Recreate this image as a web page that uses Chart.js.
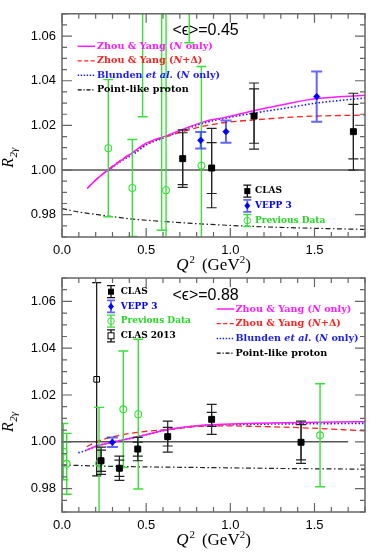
<!DOCTYPE html>
<html><head><meta charset="utf-8">
<script src="https://cdn.jsdelivr.net/npm/chart.js@4.4.0/dist/chart.umd.min.js"></script>
<style>
html,body{margin:0;padding:0;background:#fff;}
#wrap{position:relative;width:374px;height:554px;overflow:hidden;background:#fff;}
canvas{position:absolute;left:0;top:0;}
</style></head><body>
<div id="wrap"><canvas id="c1" width="374" height="554"></canvas><canvas id="c2" width="374" height="554"></canvas></div>
<script>
// ================= DATA =================
const xTickVals = [0.0, 0.5, 1.0, 1.5];
const yTickVals = [0.98, 1.00, 1.02, 1.04, 1.06];

// ---- panel 1 : <eps> = 0.45 ----
const clasQ2_45   = [0.717, 0.889, 1.141, 1.731];
const clasR_45    = [1.0051, 1.0009, 1.0242, 1.0172];
const clasStat_45 = [0.0116, 0.0114, 0.0122, 0.0122];
const clasTot_45  = [0.0129, 0.0178, 0.0148, 0.0172];

const veppQ2_45  = [0.824, 0.974, 1.513];
const veppR_45   = [1.0133, 1.0172, 1.0329];
const veppErr_45 = [0.0037, 0.0050, 0.0113];

const prevQ2_45  = [0.275, 0.418, 0.479, 0.592, 0.618, 0.618, 0.756, 0.828];
const prevR_45   = [1.0098, 0.9920, 1.0850, 1.1000, 0.9910, 1.0880, 1.0900, 1.0020];
const prevErr_45 = [0.0307, 0.0217, 0.0611, 0.1270, 0.0456, 0.0514, 0.0330, 0.0444];

const curveQ2_45 = [0.15, 0.20, 0.275, 0.35, 0.418, 0.50, 0.618, 0.717, 0.85, 0.968, 1.147, 1.325, 1.513, 1.80];
const zyN_45     = [0.9918, 0.9955, 1.0000, 1.0042, 1.0077, 1.0120, 1.0153, 1.0182, 1.0218, 1.0236, 1.0267, 1.0295, 1.0320, 1.0335];
const zyND_45    = [0.9918, 0.9956, 1.0003, 1.0045, 1.0078, 1.0117, 1.0150, 1.0172, 1.0198, 1.0213, 1.0225, 1.0235, 1.0242, 1.0246];
const blN_45     = [null, null, 0.9998, 1.0040, 1.0068, 1.0112, 1.0148, 1.0178, 1.0212, 1.0232, 1.0256, 1.0277, 1.0300, 1.0323];
const pointQ2_45 = [0.0, 0.1, 0.275, 0.424, 0.618, 0.82, 1.0, 1.216, 1.5, 1.8];
const pointR_45  = [0.9827, 0.9812, 0.9794, 0.9780, 0.9769, 0.9759, 0.9752, 0.9745, 0.9739, 0.9734];
const unityQ2_45 = [0.0, 1.8];

// ---- panel 2 : <eps> = 0.88 ----
const clasQ2_88   = [0.232, 0.341, 0.450, 0.628, 0.889, 1.420];
const clasR_88    = [0.9919, 0.9887, 0.9969, 1.0022, 1.0096, 0.9998];
const clasStat_88 = [0.0045, 0.0035, 0.0030, 0.0040, 0.0030, 0.0075];
const clasTot_88  = [0.0058, 0.0052, 0.0050, 0.0066, 0.0064, 0.0090];

const veppQ2_88  = [0.299];
const veppR_88   = [0.9998];
const veppErr_88 = [0.0020];

const prevQ2_88  = [0.008, 0.028, 0.220, 0.364, 0.453, 1.533];
const prevR_88   = [0.9958, 0.9906, 0.9908, 1.0139, 1.0118, 1.0028];
const prevErr_88 = [0.0120, 0.0130, 0.0239, 0.0249, 0.0320, 0.0220];

const clas13Q2_88  = [0.206];
const clas13R_88   = [1.0267];
const clas13Err_88 = [0.0413];

const curveQ2_88 = [0.097, 0.147, 0.206, 0.299, 0.434, 0.632, 0.85, 1.0, 1.147, 1.424, 1.642, 1.80];
const zyN_88     = [null, 0.9965, 0.9982, 0.9998, 1.0019, 1.0053, 1.0072, 1.0076, 1.0079, 1.0083, 1.0085, 1.0086];
const zyND_88    = [null, 0.9979, 1.0000, 1.0021, 1.0039, 1.0053, 1.0067, 1.0068, 1.0066, 1.0060, 1.0053, 1.0047];
const blN_88     = [0.9953, 0.9964, 0.9982, 0.9998, 1.0019, 1.0052, 1.0070, 1.0073, 1.0075, 1.0077, 1.0078, 1.0079];
const pointQ2_88 = [0.0, 0.3, 0.85, 1.3, 1.8];
const pointR_88  = [0.9901, 0.9895, 0.9890, 0.9886, 0.9883];
const unityQ2_88 = [0.0, 1.7];

// ================= STYLE =================
const C_MAG = '#ff1aff', C_RED = '#ff2020', C_BLUE = '#1a1aff', C_GREEN = '#38e038';
const C_VEPPERR = 'rgba(40,40,255,0.72)', C_FRAME = '#666';
const SERIF = '"DejaVu Serif", serif';
const TSERIF = '"Liberation Serif", "Times New Roman", serif';

function pts(xs, ys) {
  const out = [];
  xs.forEach((x, i) => { if (ys[i] !== null && ys[i] !== undefined) out.push({x: x, y: ys[i]}); });
  return out;
}

function drawSegs(ctx, segs, x, y, size, color) {
  ctx.fillStyle = color; ctx.textBaseline = 'middle'; ctx.textAlign = 'left';
  segs.forEach(s => {
    ctx.font = (s.i ? 'italic ' : '') + 'bold ' + size + 'px ' + SERIF;
    ctx.fillText(s.t, x, y);
    x += ctx.measureText(s.t).width;
  });
}

const lineLegendItems = [
  {color: C_MAG, dash: [], w: 1.5, segs: [{t: 'Zhou & Yang ('}, {t: 'N', i: 1}, {t: ' only)'}]},
  {color: C_RED, dash: [4, 2.5], w: 1.3, segs: [{t: 'Zhou & Yang ('}, {t: 'N', i: 1}, {t: '+Δ)'}]},
  {color: C_BLUE, dash: [1.4, 1.6], w: 1.5, segs: [{t: 'Blunden '}, {t: 'et al.', i: 1}, {t: ' ('}, {t: 'N', i: 1}, {t: ' only)'}]},
  {color: '#000', dash: [4, 1.8, 1.2, 1.8], w: 1.2, segs: [{t: 'Point-like proton'}]}
];

function glyph(ctx, kind, x, y) {
  const col = {clas: '#111', vepp: C_VEPPERR, prev: C_GREEN, clas13: '#111'}[kind];
  ctx.save();
  ctx.strokeStyle = col; ctx.lineWidth = kind === 'vepp' ? 1.8 : 1.3; ctx.setLineDash([]);
  ctx.beginPath();
  ctx.moveTo(x, y - 6); ctx.lineTo(x, y + 6);
  ctx.moveTo(x - 4, y - 6); ctx.lineTo(x + 4, y - 6);
  ctx.moveTo(x - 4, y + 6); ctx.lineTo(x + 4, y + 6);
  ctx.stroke();
  ctx.lineWidth = 1;
  if (kind === 'clas') { ctx.fillStyle = '#000'; ctx.fillRect(x - 3, y - 3, 6, 6); }
  if (kind === 'clas13') { ctx.fillStyle = '#fff'; ctx.fillRect(x - 3, y - 3, 6, 6); ctx.strokeStyle = '#000'; ctx.strokeRect(x - 3, y - 3, 6, 6); }
  if (kind === 'vepp') { ctx.fillStyle = '#0000ff'; ctx.beginPath(); ctx.moveTo(x, y - 3.5); ctx.lineTo(x + 3, y); ctx.lineTo(x, y + 3.5); ctx.lineTo(x - 3, y); ctx.closePath(); ctx.fill(); }
  if (kind === 'prev') { ctx.strokeStyle = C_GREEN; ctx.beginPath(); ctx.arc(x, y, 3.3, 0, Math.PI * 2); ctx.stroke(); }
  ctx.restore();
}

const decoPlugin = {
  id: 'deco',
  beforeDatasetDraw(chart, args) {
    const ds = chart.data.datasets[args.index];
    if (!ds.errs) return;
    const ctx = chart.ctx, a = chart.chartArea, xs = chart.scales.x, ys = chart.scales.y;
    ctx.save();
    ctx.beginPath(); ctx.rect(a.left, a.top, a.right - a.left, a.bottom - a.top); ctx.clip();
    ctx.strokeStyle = ds.errColor; ctx.lineWidth = ds.errWidth; ctx.setLineDash([]);
    ds.data.forEach((p, i) => {
      const px = xs.getPixelForValue(p.x);
      ds.errs.forEach(e => {
        const y1 = ys.getPixelForValue(p.y + e[i]), y2 = ys.getPixelForValue(p.y - e[i]);
        ctx.beginPath();
        ctx.moveTo(px, y1); ctx.lineTo(px, y2);
        ctx.moveTo(px - ds.capHalf, y1); ctx.lineTo(px + ds.capHalf, y1);
        ctx.moveTo(px - ds.capHalf, y2); ctx.lineTo(px + ds.capHalf, y2);
        ctx.stroke();
      });
    });
    ctx.restore();
  },
  afterDraw(chart, args, o) {
    const ctx = chart.ctx, a = chart.chartArea, xs = chart.scales.x, ys = chart.scales.y;
    ctx.save();
    // frame
    ctx.strokeStyle = C_FRAME; ctx.lineWidth = 1.5; ctx.setLineDash([]);
    ctx.strokeRect(a.left, a.top, a.right - a.left, a.bottom - a.top);
    // inward ticks
    ctx.lineWidth = 1.2;
    ctx.beginPath();
    for (let k = 0; k <= 18; k++) {
      const v = k / 10, px = xs.getPixelForValue(v);
      const L = (k % 5 === 0) ? 9 : 5;
      ctx.moveTo(px, a.bottom); ctx.lineTo(px, a.bottom - L);
      ctx.moveTo(px, a.top); ctx.lineTo(px, a.top + L);
    }
    for (let k = 0; k <= 20; k++) {
      const v = 0.97 + k * 0.005, py = ys.getPixelForValue(v);
      const L = ((k - 2) % 4 === 0) ? 10 : 5;
      ctx.moveTo(a.left, py); ctx.lineTo(a.left + L, py);
      ctx.moveTo(a.right, py); ctx.lineTo(a.right - L, py);
    }
    ctx.stroke();

    // epsilon label
    ctx.fillStyle = '#000'; ctx.textBaseline = 'alphabetic'; ctx.textAlign = 'left';
    ctx.font = '16px "Liberation Sans", "DejaVu Sans", sans-serif';
    ctx.fillText('<ϵ>=' + o.eps, a.left + 110.5, a.top + 21.5);

    // x title
    const cx = (a.left + a.right) / 2, by = a.bottom + 33;
    const big = '17px ' + TSERIF, sml = '11px ' + TSERIF;
    ctx.font = 'italic ' + big; const wQ = ctx.measureText('Q').width;
    ctx.font = sml; const w2 = ctx.measureText('2').width;
    ctx.font = big; const wG = ctx.measureText('(GeV').width, wP = ctx.measureText(')').width;
    const gap = 7;
    const total = wQ + w2 + 1 + gap + wG + w2 + wP;
    let tx = cx - total / 2;
    ctx.font = 'italic ' + big; ctx.fillText('Q', tx, by); tx += wQ + 1;
    ctx.font = sml; ctx.fillText('2', tx, by - 7); tx += w2 + gap;
    ctx.font = big; ctx.fillText('(GeV', tx, by); tx += wG;
    ctx.font = sml; ctx.fillText('2', tx, by - 7); tx += w2;
    ctx.font = big; ctx.fillText(')', tx, by);

    // y title (rotated)
    ctx.save();
    ctx.translate(13, a.top + 154);
    ctx.rotate(-Math.PI / 2);
    ctx.font = 'italic 16px ' + TSERIF; ctx.fillText('R', 0, 0);
    const wR = ctx.measureText('R').width;
    ctx.font = 'italic 11px ' + TSERIF; ctx.fillText('2γ', wR + 0.5, 3.5);
    ctx.restore();

    // line legend
    const L1 = o.lineLegend;
    lineLegendItems.forEach((it, i) => {
      const y = a.top + L1.y0 + i * L1.dy;
      ctx.strokeStyle = it.color; ctx.lineWidth = it.w; ctx.setLineDash(it.dash);
      ctx.beginPath(); ctx.moveTo(a.left + L1.x0, y); ctx.lineTo(a.left + L1.x1, y); ctx.stroke();
      ctx.setLineDash([]);
      drawSegs(ctx, it.segs, a.left + L1.tx, y, 9.6, it.color);
    });

    // marker legend
    const M = o.markerLegend;
    M.items.forEach((it, i) => {
      const y = a.top + M.y0 + i * M.dy;
      glyph(ctx, it.kind, a.left + M.mx, y);
      drawSegs(ctx, [{t: it.label}], a.left + M.tx, y, 9, it.color);
    });
    ctx.restore();
  }
};

function curveDS(xs, ys, color, dash, width) {
  return {data: pts(xs, ys), showLine: true, borderColor: color, borderDash: dash, borderWidth: width,
          pointRadius: 0, cubicInterpolationMode: 'monotone', fill: false};
}
function markerDS(xs, ys, errs, style) {
  return Object.assign({data: pts(xs, ys), errs: errs, showLine: false}, style);
}
const clasStyle = {pointStyle: 'rect', pointRadius: 4.2, backgroundColor: '#000', borderColor: '#000', borderWidth: 1, errColor: '#222', errWidth: 1.2, capHalf: 5};
const veppStyle = {pointStyle: 'rectRot', pointRadius: 3.3, backgroundColor: '#0000ff', borderColor: '#0000ff', borderWidth: 0.5, errColor: C_VEPPERR, errWidth: 2, capHalf: 5.5};
const prevStyle = {pointStyle: 'circle', pointRadius: 3.4, backgroundColor: 'rgba(0,0,0,0)', borderColor: C_GREEN, borderWidth: 1.1, errColor: C_GREEN, errWidth: 1.4, capHalf: 5};
const clas13Style = {pointStyle: 'rect', pointRadius: 4, backgroundColor: 'rgba(255,255,255,0)', borderColor: '#000', borderWidth: 1, errColor: '#111', errWidth: 1.2, capHalf: 4.5};

function makeChart(id, datasets, pad, xH, deco) {
  return new Chart(document.getElementById(id), {
    type: 'scatter',
    data: {datasets: datasets},
    options: {
      responsive: false, animation: false, devicePixelRatio: 1, events: [],
      layout: {padding: pad},
      plugins: {legend: {display: false}, tooltip: {enabled: false}, deco: deco},
      scales: {
        x: {type: 'linear', min: 0, max: 1.8,
            afterBuildTicks: s => { s.ticks = xTickVals.map(v => ({value: v})); },
            afterFit: s => { s.height = xH; },
            grid: {display: false, drawTicks: false}, border: {display: false},
            ticks: {autoSkip: false, maxRotation: 0, padding: 6, color: '#000',
                    font: {size: 13, family: '"Liberation Sans", Arial, sans-serif'}, callback: v => Number(v).toFixed(1)}},
        y: {type: 'linear', min: 0.97, max: 1.07,
            afterBuildTicks: s => { s.ticks = yTickVals.map(v => ({value: v})); },
            afterFit: s => { s.width = 62; },
            grid: {display: false, drawTicks: false}, border: {display: false},
            ticks: {autoSkip: false, padding: 6, color: '#000',
                    font: {size: 13, family: '"Liberation Sans", Arial, sans-serif'}, callback: v => Number(v).toFixed(2)}}
      }
    },
    plugins: [decoPlugin]
  });
}

const ds45 = [
  markerDS(clasQ2_45, clasR_45, [clasStat_45, clasTot_45], clasStyle),
  markerDS(veppQ2_45, veppR_45, [veppErr_45], veppStyle),
  markerDS(prevQ2_45, prevR_45, [prevErr_45], prevStyle),
  curveDS(curveQ2_45, zyN_45, C_MAG, [], 1.5),
  curveDS(curveQ2_45, zyND_45, C_RED, [6, 3.5], 1.3),
  curveDS(curveQ2_45, blN_45, C_BLUE, [1.5, 2], 1.6),
  curveDS(pointQ2_45, pointR_45, '#222', [5, 2.5, 1.5, 2.5], 1.2),
  curveDS(unityQ2_45, unityQ2_45.map(() => 1.0), '#555', [], 1.5)
];
const ds88 = [
  markerDS(clasQ2_88, clasR_88, [clasStat_88, clasTot_88], clasStyle),
  markerDS(veppQ2_88, veppR_88, [veppErr_88], veppStyle),
  markerDS(prevQ2_88, prevR_88, [prevErr_88], prevStyle),
  markerDS(clas13Q2_88, clas13R_88, [clas13Err_88], clas13Style),
  curveDS(curveQ2_88, zyN_88, C_MAG, [], 1.5),
  curveDS(curveQ2_88, zyND_88, C_RED, [6, 3.5], 1.3),
  curveDS(curveQ2_88, blN_88, C_BLUE, [1.5, 2], 1.6),
  curveDS(pointQ2_88, pointR_88, '#222', [5, 2.5, 1.5, 2.5], 1.2),
  curveDS(unityQ2_88, unityQ2_88.map(() => 1.0), '#555', [], 1.5)
];

makeChart('c1', ds45, {top: 1, right: 9, bottom: 282, left: 0}, 35, {
  eps: '0.45',
  lineLegend: {x0: 15.7, x1: 33, tx: 35, y0: 32.5, dy: 14.5},
  markerLegend: {mx: 185.3, tx: 193, y0: 177.3, dy: 14.7, items: [
    {kind: 'clas', label: 'CLAS', color: '#000'},
    {kind: 'vepp', label: 'VEPP 3', color: '#0000ff'},
    {kind: 'prev', label: 'Previous Data', color: '#22d822'}]}
});
makeChart('c2', ds88, {top: 278, right: 9, bottom: 0, left: 0}, 42, {
  eps: '0.88',
  lineLegend: {x0: 154.7, x1: 172.3, tx: 173.5, y0: 31, dy: 14.7},
  markerLegend: {mx: 49, tx: 58.7, y0: 13.7, dy: 14.7, items: [
    {kind: 'clas', label: 'CLAS', color: '#000'},
    {kind: 'vepp', label: 'VEPP 3', color: '#0000ff'},
    {kind: 'prev', label: 'Previous Data', color: '#22d822'},
    {kind: 'clas13', label: 'CLAS 2013', color: '#000'}]}
});
</script>
</body></html>
